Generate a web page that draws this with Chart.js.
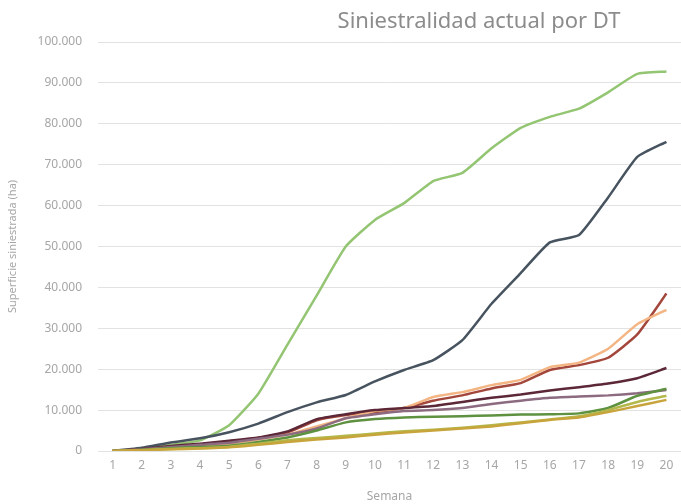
<!DOCTYPE html>
<html>
<head>
<meta charset="utf-8">
<script src="https://cdn.jsdelivr.net/npm/chart.js@4"></script>
<style>
  html, body { margin: 0; padding: 0; background: #fff; }
  #wrap { width: 681px; height: 504px; }
</style>
</head>
<body>
<div id="wrap"><canvas id="siniestroChart" width="681" height="504"></canvas></div>
<script>
// Semanas
const semanas = ['1','2','3','4','5','6','7','8','9','10','11','12','13','14','15','16','17','18','19','20'];

// Superficie siniestrada acumulada (ha) por DT
const dtVerdeClaro = [0, 500, 1500, 2600, 6300, 14000, 26000, 38000, 50000, 56500, 60600, 66000, 68000, 74000, 79000, 81700, 83700, 87700, 92200, 92800];
const dtPizarra    = [0, 800, 2100, 3100, 4600, 6700, 9500, 11900, 13700, 17000, 19800, 22200, 27100, 36000, 43500, 51000, 52800, 62000, 71900, 75600];
const dtGranate    = [0, 400, 1000, 1600, 2300, 3200, 4500, 7500, 8800, 9500, 10500, 12300, 13600, 15300, 16600, 19800, 21000, 22800, 28500, 38500];
const dtMelocoton  = [0, 300, 800, 1200, 1800, 2800, 4000, 6000, 8000, 9800, 10500, 13200, 14400, 16100, 17400, 20500, 21600, 25000, 31000, 34500];
const dtCiruela    = [0, 500, 1200, 1800, 2500, 3300, 4800, 7800, 9000, 10000, 10500, 11000, 12000, 13000, 13800, 14800, 15600, 16500, 17800, 20300];
const dtMalva      = [0, 400, 1000, 1500, 2000, 3000, 4000, 5500, 8000, 9000, 9800, 10000, 10500, 11500, 12300, 13000, 13300, 13600, 14100, 14900];
const dtVerdeOsc   = [0, 300, 700, 1000, 1300, 2200, 3300, 5000, 7000, 7800, 8200, 8400, 8500, 8700, 8900, 9000, 9200, 10500, 13500, 15200];
const dtOliva      = [0, 200, 500, 700, 1000, 1800, 2600, 3200, 3700, 4300, 4800, 5200, 5700, 6300, 7000, 7700, 8500, 10000, 12000, 13500];
const dtOro        = [0, 200, 400, 600, 900, 1500, 2200, 2800, 3300, 4000, 4500, 5000, 5500, 6000, 6800, 7600, 8200, 9500, 11000, 12500];

const yTicks = [0, 10000, 20000, 30000, 40000, 50000, 60000, 70000, 80000, 90000, 100000];

function serie(data, color) {
    return {
        data: data,
        borderColor: color,
        backgroundColor: color,
        borderWidth: 2.5,
        pointRadius: 0,
        tension: 0.15,
        fill: false
    };
}

function miles(v) {
    return String(v).replace(/\B(?=(\d{3})+(?!\d))/g, '.');
}

// titulo dibujado a mano, a la derecha como en el original
const tituloPlugin = {
    id: 'tituloPlugin',
    afterDraw(chart) {
        const ctx = chart.ctx;
        ctx.save();
        ctx.font = '22px "Noto Sans", sans-serif';
        ctx.fillStyle = '#8c8c8c';
        ctx.textAlign = 'center';
        ctx.textBaseline = 'middle';
        ctx.fillText('Siniestralidad actual por DT', 479, 22);
        ctx.restore();
    }
};

const fuente = { family: '"Noto Sans", sans-serif', size: 12 };

const ctx = document.getElementById('siniestroChart').getContext('2d');
new Chart(ctx, {
    type: 'line',
    data: {
        labels: semanas,
        datasets: [
            serie(dtOro, '#c8a43c'),
            serie(dtOliva, '#b3b84a'),
            serie(dtVerdeOsc, '#5e9140'),
            serie(dtMalva, '#8c6a80'),
            serie(dtCiruela, '#5c2838'),
            serie(dtMelocoton, '#f3b583'),
            serie(dtGranate, '#a3463b'),
            serie(dtPizarra, '#47535f'),
            serie(dtVerdeClaro, '#93c572')
        ]
    },
    options: {
        responsive: false,
        animation: false,
        layout: { padding: { top: 42, right: 0, left: 0, bottom: 0 } },
        plugins: {
            legend: { display: false },
            tooltip: { enabled: false }
        },
        scales: {
            x: {
                offset: true,
                grid: { display: false, drawTicks: false },
                border: { display: false },
                ticks: {
                    color: '#a6a6a6',
                    font: fuente,
                    padding: 7,
                    maxRotation: 0,
                    autoSkip: false
                },
                title: {
                    display: true,
                    text: 'Semana',
                    color: '#a6a6a6',
                    font: fuente,
                    padding: { top: 4, bottom: 0 }
                },
                afterFit(scale) { scale.height = 53; }
            },
            y: {
                min: 0,
                max: 100000,
                afterBuildTicks(scale) {
                    scale.ticks = yTicks.map(v => ({ value: v }));
                },
                grid: { color: '#e2e2e2', lineWidth: 1, drawTicks: false },
                border: { display: false },
                ticks: {
                    color: '#a6a6a6',
                    font: fuente,
                    padding: 16,
                    callback: v => miles(v)
                },
                title: {
                    display: true,
                    text: 'Superficie siniestrada (ha)',
                    color: '#a6a6a6',
                    font: { family: '"Noto Sans", sans-serif', size: 11 },
                    padding: { top: 6, bottom: 0 }
                },
                afterFit(scale) { scale.width = 98; }
            }
        }
    },
    plugins: [tituloPlugin]
});
</script>
</body>
</html>
